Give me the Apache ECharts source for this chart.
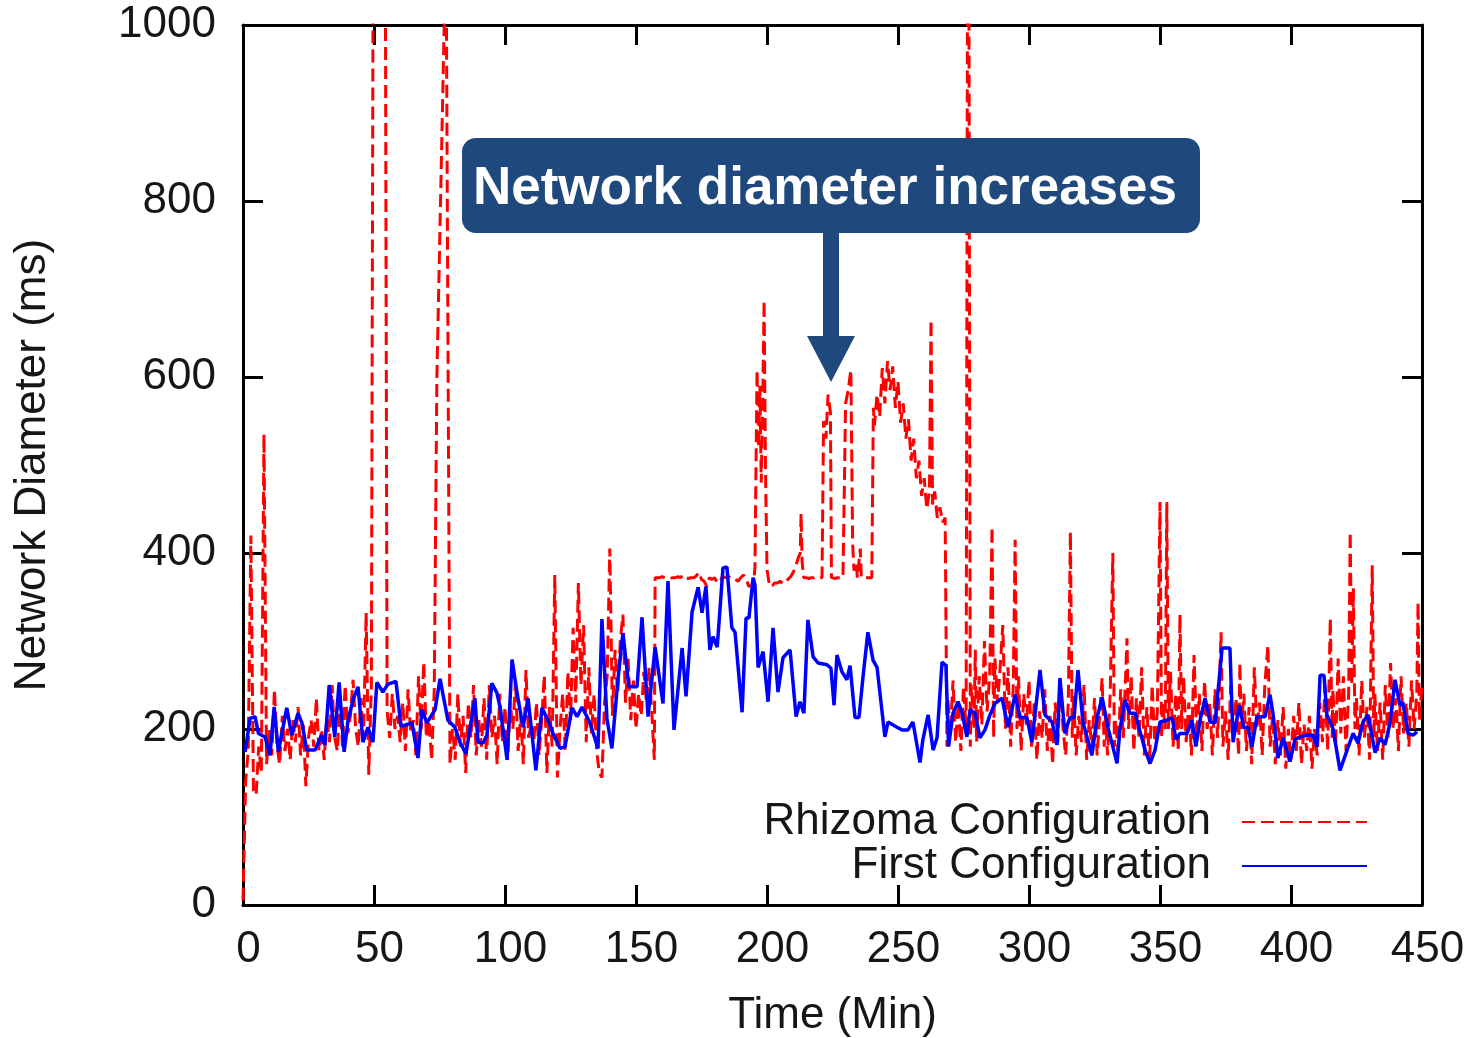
<!DOCTYPE html>
<html>
<head>
<meta charset="utf-8">
<script src="https://cdn.jsdelivr.net/npm/echarts@6/dist/echarts.min.js"></script>
<style>
html,body{margin:0;padding:0;background:#fff;}
#chart{width:1477px;height:1038px;}
</style>
</head>
<body>
<div id="chart"></div>
<script>
// ---- data ----
const seriesNames = ['Rhizoma Configuration', 'First Configuration'];
const xTickLabels = ['0','50','100','150','200','250','300','350','400','450'];
const yTickLabels = ['0','200','400','600','800','1000'];
const annotationText = 'Network diameter increases';

// Rhizoma Configuration: [time (min), diameter (ms)]
const rhizoma = [
[0,5],[1,140],[2,175],[3,420],[4,130],[5,125],[6,180],[7,150],[8,535],[9,160],[10,200],
[11,170],[12,245],[13,180],[14,160],[15,215],[16,175],[17,200],[18,165],[19,210],[20,185],
[21,225],[22,170],[23,205],[24,135],[25,190],[26,210],[27,180],[28,235],[29,175],[30,200],
[31,165],[32,215],[33,185],[34,250],[35,190],[36,175],[37,230],[38,180],[39,250],[40,195],
[41,215],[42,256],[43,200],[44,180],[45,235],[46,190],[47,332],[48,148],[49,250],[50,1500],
[54,1500],[55,220],[56,190],[57,240],[58,200],[59,215],[60,185],
[61,230],[62,175],[63,245],[64,195],[65,210],[66,170],[67,260],[68,200],[69,276],[70,190],
[71,210],[72,165],[73,245],[74,600],[77.5,1100],[78,1100],[79,160],
[80,200],[81,165],[82,240],[83,180],[84,215],[85,150],[86,230],[87,190],[88,250],[89,170],[90,210],
[91,180],[92,235],[93,165],[94,250],[95,190],[96,215],[97,160],[98,240],[99,185],[100,225],
[101,165],[102,230],[103,200],[104,255],[105,175],[106,215],[107,160],[108,267],[109,190],[110,205],
[111,185],[112,230],[113,170],[114,210],[115,261],[116,150],[117,225],[118,180],[119,375],[120,145],
[121,200],[122,240],[123,175],[124,265],[125,210],[126,315],[127,230],[128,366],[129,250],[130,318],
[131,185],[132,270],[133,195],[134,240],[135,175],[136,150],[137,145],[138,230],[139,260],[140,405],
[141,215],[142,290],[143,240],[144,300],[145,330],[146,230],[147,280],[148,210],[149,255],[150,200],
[151,240],[152,215],[153,265],[154,230],[155,270],[156,220],[157,165],[157.3,372],
[158,372],[159,372],[160,373],[161,372],[162,372],[163,371],[164,372],[165,372],[166,373],[167,372],
[168,375],[169,372],[170,371],[171,372],[172,372],[173,374],[174,378],[175,370],[176,368],[177,362],
[178,372],[179,370],[180,372],[181,366],[182,367],[183,373],[184,372],[185,374],[186,372],[187,372],
[188,370],[189,368],[190,372],[191,375],[192,372],[193,362],[194,363],[195,368],
[195.4,384],[196.2,608],[196.8,520],[197.3,590],[197.8,480],[198.3,560],[198.9,687],[199.4,500],[200,381],
[201,362],[202,363],[203,366],[204,366],[205,368],[206,365],[207,367],[208,370],[209,373],[210,378],
[211,385],[212,395],[212.7,400],[213,445],[213.4,390],[214,372],[215,372],[216,371],[217,372],[218,372],
[219,373],[220,372],[221,372],[221.3,372],[221.6,550],[222.5,530],[223.3,580],[224.2,560],[224.6,372],
[225,372],[226,371],[227,372],[228,372],[229,372],[229.7,372],[230,570],[231,585],[232,608],[232.7,410],
[233.2,380],[234,390],[234.5,372],[235,372],[235.6,405],[236,372],[237,372],[238,372],[239,372],[240,372],
[240.6,565],[241,545],[242,580],[243,555],[244,610],[245,570],[246,618],[247,585],[248,612],[249,565],
[250,595],[251,548],[252,570],[253,530],[254,552],[255,505],[256,530],[257,485],[258,505],[259,465],
[260,485],[261,450],[262,470],[262.6,665],[263.2,455],[264,470],[265,440],[266,452],[267,435],[268,440],
[268.7,180],[269,235],[270,195],[271,255],[272,185],[273,230],[274,175],[275,248],[276,200],
[276.8,1500],[277.2,1500],[277.6,180],[278,250],[279,200],[279.5,290],[280,185],
[281,260],[282,205],[283,300],[284,220],[285,260],[285.9,430],[286.5,190],[287,280],[288,230],[289,270],
[290,318],[291,200],[292,270],[293,180],[294,250],[294.7,415],[295.4,200],[296,260],[297,175],[298,240],
[299,205],[300,255],[301,180],[302,230],[303,165],[304,220],[305,190],[306,245],[307,175],[308,215],
[309,160],[310,230],[311,185],[312,250],[313,200],[314,170],[315,230],[315.8,424],[316.5,190],[317,240],
[318,170],[319,215],[320,185],[321,250],[322,165],[323,210],[324,180],[325,235],[326,170],[327.9,258],
[328.7,180],[329,220],[330,170],[331,240],[332,400],[332.6,180],[333,210],[334,175],[335,245],[336,190],
[337.4,303],[338,200],[339,260],[340,175],[341,235],[342,190],[343,270],[344,170],[345,225],[346,160],
[347,250],[348,185],[349,220],[350,458],[350.6,190],[351,230],[352,200],[352.6,458],[353.2,200],[354,265],
[355,180],[356,240],[357,175],[357.6,330],[358.3,200],[359,260],[360,185],[361,230],[362,170],[363,284],
[364,190],[365,240],[366,175],[367,255],[368,200],[369,230],[370,170],[371,245],[372,190],[373.3,310],
[374,180],[375,220],[376,165],[377,250],[378,195],[379,235],[380,170],[380.5,275],[381,200],[382,240],
[383,175],[384,225],[385,160],[386,270],[387,200],[388,230],[389,170],[390,250],[391.2,295],[392,180],
[393,215],[394,160],[395,210],[396,170],[397,225],[398,155],[399,200],[400,165],[401,215],[402,175],
[403,230],[404,160],[405,205],[406,175],[407,215],[408,155],[409,200],[410,170],[411,230],[412,185],
[413,250],[414,175],[415,326],[415.7,190],[416,245],[417,180],[418,280],[419,195],[420,260],[421,175],
[422,240],[422.6,424],[423.2,250],[423.8,360],[424.4,200],[425,235],[426,170],[427,255],[428,190],[429,225],
[430,165],[431,386],[431.6,190],[432,240],[433,175],[434,230],[435,165],[436,250],[437,190],[438,275],
[439,200],[440,235],[441,175],[442,260],[443,195],[444,230],[445,180],[446,255],[447,200],[448,240],
[448.5,344],[449,210],[450,250]
];

// First Configuration: [time (min), diameter (ms)]
const first = [
[0.8,174],[2.7,212],[4.6,214],[5.9,195],[8.4,191],[10.3,170],[11.9,225],[13.5,174],[16.7,224],[18.6,193],
[21,218],[22.5,207],[24.3,176],[27.5,176],[30,193],[31.3,182],[32.9,250],[35,191],[36.7,253],[38.6,174],
[40.1,210],[42,233],[43.9,248],[45.8,185],[47.7,202],[49.6,185],[51.1,253],[53.4,242],[55.3,251],[58.4,254],
[60.3,203],[64.5,207],[66.8,167],[68.3,222],[70.2,207],[73.3,222],[75.2,257],[78.2,210],[80.9,202],[82.8,185],
[85.1,172],[88.5,235],[89.7,185],[91.6,184],[93.1,193],[95,252],[96.9,241],[98.1,225],[100.8,165],[102.7,279],
[104.6,241],[106.9,202],[108.8,235],[111.8,153],[114.1,224],[116.4,210],[118.3,195],[121,178],[122.9,180],[125.6,224],
[127.5,214],[129.4,225],[132.4,207],[135.5,178],[137,325],[138.9,212],[140.8,178],[143.1,256],[145,309],[147.3,248],
[150.4,248],[152.3,327],[154.6,214],[157.3,293],[160.3,229],[162.2,368],[164.5,199],[167.6,292],[169.1,237],[171.4,333],
[173.7,361],[175.2,332],[176.7,362],[178.2,290],[179.4,305],[181,293],[183.2,383],[184.7,384],[186.6,315],[187.8,310],
[190.5,219],[192,326],[193.1,326],[194.7,372],[195.4,364],[196.6,270],[198.5,288],[200.4,231],[202.3,315],[204.2,242],
[206.1,281],[208.8,290],[211.1,214],[212.6,231],[214.1,218],[215.6,324],[217.6,282],[219.5,275],[222.9,273],[224.4,269],
[225.6,227],[226.7,284],[228.6,265],[230.5,256],[231.7,272],[233.6,213],[235.1,213],[236.6,258],[238.5,310],[240.5,278],
[242,270],[245,191],[246.2,208],[249.6,202],[251.5,199],[253.8,199],[255.7,208],[258.4,162],[259.5,188],[261.5,216],
[263.4,176],[264.9,190],[266.8,276],[268.3,272],[269.3,180],[271,218],[272.9,231],[274.4,219],[276.3,191],[277.5,222],
[279.4,218],[281.3,190],[283.2,199],[285.1,216],[287,229],[289.7,235],[292,202],[294.7,239],[296.6,213],[299.2,213],
[301.1,185],[304.2,267],[306.1,216],[308.8,208],[310.7,182],[311.8,258],[313.7,195],[315.6,213],[317.2,213],[318.7,267],
[320.6,208],[324,170],[326,213],[327.9,236],[330.2,201],[333.6,161],[334.7,199],[336.6,233],[338.5,218],[340.5,218],
[344.3,176],[346.2,161],[348.1,176],[350,208],[352.7,210],[354.6,213],[356.1,188],[357.6,195],[360.3,195],[362.2,210],
[363.7,180],[365.3,210],[367.2,235],[369.1,208],[371,207],[373.7,292],[376.7,292],[377.9,185],[380.2,227],[382.1,201],
[383.6,202],[385.1,180],[387,214],[390.1,214],[392,239],[393.1,218],[395,167],[397,190],[399.6,163],[401.5,188],
[403.4,191],[406.1,193],[408.4,193],[409.9,180],[411.1,261],[412.6,261],[413.7,216],[416,201],[418.7,153],[421.4,176],
[423.7,195],[425.6,184],[427.5,208],[429.4,216],[432.1,173],[434,190],[435.9,182],[437.8,207],[439.7,256],[441.6,227],
[442.7,230],[444.7,195],[446.6,193],[448.1,197]
];

// ---- chart ----
const FONT = '"Liberation Sans", Arial, Helvetica, sans-serif';
const TXT = '#161616';
const FS = 44;
const chart = echarts.init(document.getElementById('chart'), null, {renderer: 'canvas'});

const axisLineStyle = {show: true, onZero: false, lineStyle: {color: '#000', width: 3}};
const tickStyle = {show: true, inside: true, length: 20, lineStyle: {color: '#000', width: 3}};

chart.setOption({
  animation: false,
  backgroundColor: '#fff',
  grid: {left: 243, right: 55, top: 25, bottom: 133, containLabel: false, outerBoundsMode: 'none'},
  legend: {
    orient: 'vertical',
    right: 104,
    top: 795,
    align: 'right',
    selectedMode: false,
    itemWidth: 125,
    itemHeight: 14,
    itemGap: 0,
    itemStyle: {opacity: 0},
    textStyle: {fontFamily: FONT, fontSize: FS, color: TXT, lineHeight: 43, padding: [0, 26, 0, 0]},
    data: seriesNames
  },
  xAxis: [{
    type: 'value', position: 'bottom', min: 0, max: 450, interval: 50,
    axisLine: axisLineStyle, axisTick: tickStyle, splitLine: {show: false},
    axisLabel: {fontFamily: FONT, fontSize: FS, color: TXT, margin: 23, padding: [0, 0, 0, 11],
      formatter: v => xTickLabels[Math.round(v / 50)]},
    name: 'Time (Min)', nameLocation: 'middle', nameGap: 89,
    nameTextStyle: {fontFamily: FONT, fontSize: FS, color: TXT}
  }, {
    type: 'value', position: 'top', min: 0, max: 450, interval: 50,
    axisLine: axisLineStyle, axisTick: tickStyle, splitLine: {show: false},
    axisLabel: {show: false}
  }],
  yAxis: [{
    type: 'value', position: 'left', min: 0, max: 1000, interval: 200,
    axisLine: axisLineStyle, axisTick: tickStyle, splitLine: {show: false},
    axisLabel: {fontFamily: FONT, fontSize: FS, color: TXT, margin: 27,
      formatter: v => yTickLabels[Math.round(v / 200)]},
    name: 'Network Diameter (ms)', nameLocation: 'middle', nameGap: 188,
    nameTextStyle: {fontFamily: FONT, fontSize: FS, color: TXT}
  }, {
    type: 'value', position: 'right', min: 0, max: 1000, interval: 200,
    axisLine: axisLineStyle, axisTick: tickStyle, splitLine: {show: false},
    axisLabel: {show: false}
  }],
  series: [{
    name: seriesNames[0],
    type: 'line',
    xAxisIndex: 0, yAxisIndex: 0,
    data: rhizoma,
    showSymbol: false, symbol: 'none',
    clip: true,
    lineStyle: {color: '#ff0000', width: 3, type: [13, 6]},
    itemStyle: {color: '#ff0000'},
    z: 2
  }, {
    name: seriesNames[1],
    type: 'line',
    xAxisIndex: 0, yAxisIndex: 0,
    data: first,
    showSymbol: false, symbol: 'none',
    clip: true,
    lineStyle: {color: '#0000ff', width: 3.5},
    itemStyle: {color: '#0000ff'},
    z: 3
  }],
  graphic: [{
    type: 'rect',
    zlevel: 1, z: 100,
    shape: {x: 462, y: 138, width: 738, height: 95, r: 14},
    style: {fill: '#1f497d'}
  }, {
    type: 'text',
    zlevel: 1, z: 101,
    x: 825, y: 189,
    style: {text: annotationText, fill: '#fff', font: 'bold 53px ' + FONT,
      textAlign: 'center', textVerticalAlign: 'middle'}
  }, {
    type: 'polygon',
    zlevel: 1, z: 100,
    shape: {points: [[823, 232], [839, 232], [839, 336], [855, 336], [831, 382], [807, 336], [823, 336]]},
    style: {fill: '#1f497d'}
  }]
});
</script>
</body>
</html>
